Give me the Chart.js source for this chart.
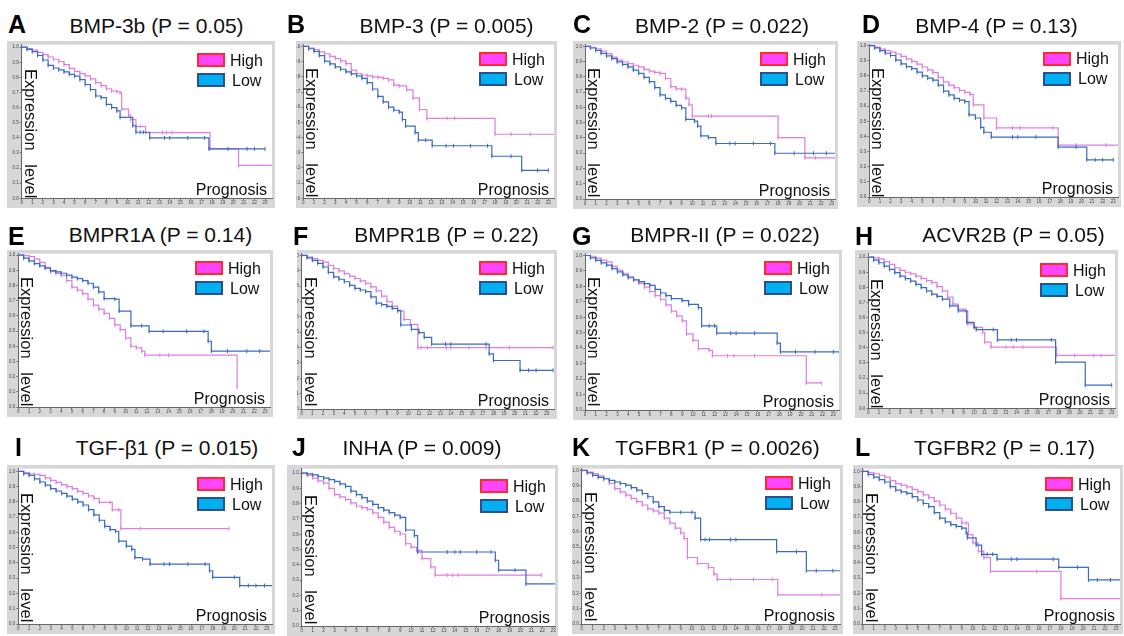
<!DOCTYPE html>
<html><head><meta charset="utf-8">
<script src="https://cdn.jsdelivr.net/npm/chart.js@4.4.1/dist/chart.umd.min.js"></script>
<style>
body{margin:0;background:#fff;}
#root{position:relative;width:1124px;height:636px;overflow:hidden;font-family:"Liberation Sans",Arial,Helvetica,sans-serif;color:#111;}
canvas{position:absolute;}
.title{position:absolute;font-size:21px;line-height:21px;white-space:nowrap;transform:translateX(-50%);}
.letter{position:absolute;font-size:25px;font-weight:bold;line-height:25px;color:#000;}
.ylab{position:absolute;writing-mode:vertical-rl;font-size:16.5px;line-height:16px;white-space:pre;}
.prog{position:absolute;font-size:16px;line-height:16px;white-space:nowrap;}
.lgt{position:absolute;font-size:16px;line-height:16px;white-space:nowrap;}
.sw{position:absolute;width:24px;height:10px;border:2px solid;}
</style></head><body>
<div id="root"></div>
<script>
// ---------- data ----------
const panelLetters = ['A','B','C','D','E','F','G','H','I','J','K','L'];
const genes = ['BMP-3b','BMP-3','BMP-2','BMP-4','BMPR1A','BMPR1B','BMPR-II','ACVR2B','TGF-\u03b21','INHA','TGFBR1','TGFBR2'];
const pValues = ['0.05','0.005','0.022','0.13','0.14','0.22','0.022','0.05','0.015','0.009','0.0026','0.17'];
const seriesNames = ['High','Low'];
const xTickLabels = ['0','1','2','3','4','5','6','7','8','9','10','11','12','13','14','15','16','17','18','19','20','21','22','23'];
const yTickLabels = ['0.0','0.1','0.2','0.3','0.4','0.5','0.6','0.7','0.8','0.9','1.0'];
const yAxisText = 'Expression   level';
const xAxisText = 'Prognosis';

const A_high = [[0,1],[0.5,0.99],[1,0.98],[1.5,0.965],[2,0.95],[2.5,0.935],[3,0.92],[3.5,0.905],[4,0.885],[4.5,0.86],[5,0.84],[5.5,0.825],[6,0.81],[6.5,0.79],[7,0.765],[7.5,0.745],[8,0.725],[8.5,0.71],[9,0.705],[9.3,0.70],[9.45,0.59],[10.1,0.55],[10.3,0.52],[10.8,0.475],[11.2,0.475],[11.7,0.435],[13.3,0.435],[13.7,0.435],[14.2,0.435],[17.8,0.327],[20.5,0.218],[23.7,0.218]];
const A_low = [[0,1],[0.5,0.985],[1,0.97],[1.5,0.945],[2,0.915],[2.5,0.88],[3,0.862],[3.5,0.85],[4,0.836],[4.5,0.82],[5,0.808],[5.5,0.785],[6,0.753],[6.5,0.72],[7,0.677],[7.5,0.666],[8,0.622],[8.5,0.60],[9,0.578],[9.3,0.535],[10.5,0.48],[10.8,0.437],[11.2,0.437],[11.5,0.437],[12.1,0.40],[13.5,0.40],[14,0.40],[15.7,0.40],[17.3,0.40],[17.7,0.327],[19.5,0.327],[21.3,0.327],[22,0.327],[23,0.327]];
const B_high = [[0,1],[0.5,0.99],[1,0.98],[1.5,0.965],[2,0.952],[2.5,0.935],[3,0.92],[3.5,0.905],[4,0.887],[4.5,0.844],[5,0.822],[5.5,0.812],[6,0.807],[6.5,0.80],[7,0.796],[7.5,0.79],[8,0.78],[8.5,0.746],[9,0.74],[9.7,0.714],[10.3,0.66],[10.9,0.585],[11.6,0.526],[13.5,0.526],[14.2,0.526],[18,0.422],[19.5,0.422],[21.3,0.422],[23.7,0.422]];
const B_low = [[0,1],[0.5,0.985],[1,0.968],[1.5,0.94],[2,0.903],[2.5,0.885],[3,0.866],[3.5,0.85],[4,0.833],[4.5,0.82],[5,0.807],[5.5,0.79],[6,0.762],[6.5,0.72],[7,0.671],[7.5,0.635],[8,0.60],[8.5,0.58],[9,0.567],[9.3,0.519],[9.6,0.476],[10.5,0.433],[10.8,0.383],[11.5,0.383],[12.1,0.346],[13.4,0.346],[14.1,0.346],[15.7,0.346],[17.3,0.346],[17.7,0.277],[19.5,0.277],[20.5,0.184],[22,0.184],[23,0.184]];
const C_high = [[0,1],[0.5,0.995],[1,0.985],[1.5,0.97],[2,0.953],[2.5,0.93],[3,0.91],[3.5,0.9],[4,0.888],[4.5,0.877],[5,0.866],[5.5,0.85],[6,0.838],[6.5,0.83],[7,0.823],[7.5,0.79],[8,0.737],[8.5,0.722],[9,0.72],[9.4,0.662],[9.7,0.618],[10,0.543],[11.5,0.543],[11.8,0.543],[18,0.403],[20.5,0.27],[21.5,0.27],[23.7,0.27]];
const C_low = [[0,1],[0.5,0.99],[1,0.974],[1.5,0.955],[2,0.938],[2.5,0.92],[3,0.899],[3.5,0.883],[4,0.866],[4.5,0.845],[5,0.823],[5.5,0.797],[6,0.769],[6.5,0.73],[7,0.683],[7.5,0.66],[8,0.64],[8.5,0.614],[9,0.597],[9.4,0.522],[10.2,0.51],[10.5,0.478],[10.8,0.414],[11.5,0.403],[12.2,0.364],[13.5,0.364],[14,0.364],[15.7,0.364],[17.3,0.364],[17.7,0.30],[19.5,0.30],[21.3,0.30],[22.5,0.30],[23.5,0.30]];
const D_high = [[0,1],[0.5,0.99],[1,0.978],[1.5,0.967],[2,0.957],[2.5,0.945],[3,0.93],[3.5,0.913],[4,0.896],[4.5,0.878],[5,0.859],[5.5,0.84],[6,0.822],[6.5,0.79],[7,0.761],[7.5,0.74],[8,0.722],[8.5,0.705],[9,0.691],[9.5,0.678],[9.8,0.609],[10.8,0.522],[12,0.457],[13.5,0.457],[14.2,0.457],[17.3,0.457],[17.8,0.343],[19.5,0.343],[22.3,0.343],[23.7,0.343]];
const D_low = [[0,1],[0.5,0.985],[1,0.967],[1.5,0.95],[2,0.935],[2.5,0.905],[3,0.88],[3.5,0.862],[4,0.848],[4.5,0.825],[5,0.80],[5.5,0.785],[6,0.772],[6.5,0.74],[7,0.70],[7.5,0.675],[8,0.652],[8.5,0.64],[9,0.63],[9.4,0.543],[10,0.522],[10.5,0.46],[10.8,0.428],[11.5,0.396],[13.5,0.396],[14,0.396],[15.7,0.396],[17.8,0.33],[19.5,0.33],[20.5,0.246],[21.3,0.246],[22,0.246],[23,0.246]];
const E_high = [[0,1],[0.5,0.997],[1,0.991],[1.5,0.975],[2,0.952],[2.5,0.92],[3,0.892],[3.5,0.88],[4,0.866],[4.5,0.833],[5,0.79],[5.5,0.77],[6,0.747],[6.5,0.71],[7,0.671],[7.5,0.645],[8,0.617],[8.5,0.584],[9,0.541],[9.5,0.509],[10,0.455],[10.5,0.40],[11,0.39],[11.5,0.368],[11.8,0.342],[13.2,0.342],[14,0.342],[20.4,0.13]];
const E_low = [[0,1],[0.5,0.98],[1,0.963],[1.5,0.945],[2,0.93],[2.5,0.915],[3,0.898],[3.5,0.89],[4,0.881],[4.5,0.868],[5,0.855],[5.5,0.845],[6,0.833],[6.5,0.815],[7,0.79],[7.5,0.758],[8,0.714],[9,0.71],[9.4,0.632],[10.5,0.535],[11.5,0.535],[12.2,0.498],[13.5,0.498],[15.7,0.498],[17.3,0.498],[17.7,0.433],[18,0.368],[19.5,0.368],[21.3,0.368],[22.5,0.368],[23.7,0.368]];
const F_high = [[0,1],[0.5,0.99],[1,0.979],[1.5,0.968],[2,0.957],[2.5,0.935],[3,0.915],[3.5,0.9],[4,0.882],[4.5,0.866],[5,0.85],[5.5,0.834],[6,0.818],[6.5,0.795],[7,0.769],[7.5,0.735],[8,0.70],[8.5,0.67],[9,0.637],[9.6,0.583],[10.2,0.551],[10.9,0.40],[11.2,0.40],[11.8,0.40],[13.6,0.40],[14,0.40],[15.7,0.40],[17.3,0.40],[19.5,0.40],[23.6,0.40]];
const F_low = [[0,1],[0.5,0.985],[1,0.968],[1.5,0.948],[2,0.925],[2.5,0.89],[3,0.861],[3.5,0.845],[4,0.829],[4.5,0.805],[5,0.786],[5.5,0.775],[6,0.765],[6.5,0.73],[7,0.69],[7.5,0.68],[8,0.669],[8.5,0.655],[9,0.643],[9.3,0.547],[10.3,0.519],[11,0.498],[11.5,0.466],[12.2,0.423],[13.5,0.423],[14,0.423],[17.3,0.423],[17.6,0.359],[18,0.316],[20.5,0.252],[21.3,0.252],[22,0.252],[23.6,0.252]];
const G_high = [[0,1],[0.5,0.995],[1,0.983],[1.5,0.97],[2,0.958],[2.5,0.93],[3,0.905],[3.5,0.885],[4,0.863],[4.5,0.84],[5,0.82],[5.5,0.795],[6,0.767],[6.5,0.74],[7,0.715],[7.5,0.68],[8,0.64],[8.5,0.609],[9,0.577],[9.4,0.493],[10,0.45],[10.5,0.397],[11.5,0.386],[11.8,0.351],[13.2,0.351],[13.8,0.351],[15.7,0.351],[20.5,0.175],[21.9,0.175]];
const G_low = [[0,1],[0.5,0.985],[1,0.968],[1.5,0.952],[2,0.937],[2.5,0.915],[3,0.894],[3.5,0.875],[4,0.856],[4.5,0.843],[5,0.831],[5.5,0.818],[6,0.806],[6.5,0.78],[7,0.757],[7.5,0.74],[8,0.721],[9,0.708],[9.6,0.683],[10.5,0.662],[10.8,0.545],[11.5,0.545],[12,0.545],[12.2,0.497],[13.5,0.497],[14,0.497],[15.7,0.497],[17.8,0.433],[18.1,0.376],[19.5,0.376],[21.3,0.376],[23,0.376],[23.7,0.376]];
const H_high = [[0,1],[0.5,0.995],[1,0.989],[1.5,0.97],[2,0.952],[2.5,0.93],[3,0.912],[3.5,0.9],[4,0.89],[4.5,0.875],[5,0.86],[5.5,0.845],[6,0.832],[6.5,0.805],[7,0.777],[7.5,0.735],[8,0.689],[8.5,0.656],[9.2,0.645],[9.4,0.558],[10,0.536],[10.8,0.503],[11,0.438],[11.6,0.405],[13,0.405],[13.7,0.405],[14.6,0.405],[17.8,0.35],[19.5,0.35],[21.3,0.35],[22,0.35],[23.7,0.35]];
const H_low = [[0,1],[0.5,0.98],[1,0.963],[1.5,0.94],[2,0.919],[2.5,0.897],[3,0.875],[3.5,0.858],[4,0.842],[4.5,0.82],[5,0.799],[5.5,0.777],[6,0.755],[6.5,0.74],[7,0.722],[7.7,0.678],[8.5,0.645],[9.3,0.569],[10,0.536],[10.2,0.521],[11.8,0.521],[12.2,0.453],[13.5,0.453],[14,0.453],[17.3,0.453],[17.7,0.306],[20.5,0.153],[23,0.153]];
const I_high = [[0,1],[0.5,0.993],[1,0.985],[1.5,0.98],[2,0.974],[2.5,0.958],[3,0.942],[3.5,0.928],[4,0.914],[4.5,0.9],[5,0.888],[5.5,0.87],[6,0.856],[6.5,0.84],[7,0.823],[7.5,0.797],[8.5,0.797],[8.7,0.748],[9.3,0.748],[9.5,0.625],[11.3,0.625],[19.5,0.625]];
const I_low = [[0,1],[0.5,0.985],[1,0.974],[1.5,0.952],[2,0.931],[2.5,0.91],[3,0.888],[3.5,0.872],[4,0.856],[4.5,0.838],[5,0.819],[5.5,0.8],[6,0.78],[6.5,0.75],[7,0.716],[7.5,0.68],[8,0.64],[8.5,0.619],[9,0.608],[9.3,0.543],[10,0.511],[10.5,0.489],[10.8,0.435],[11.5,0.425],[12.2,0.392],[13.5,0.392],[14,0.392],[15.7,0.392],[17.3,0.392],[17.7,0.349],[18,0.306],[20,0.306],[20.5,0.252],[21.3,0.252],[22,0.252],[22.8,0.252],[23.7,0.252]];
const J_high = [[0,1],[0.5,0.985],[1,0.968],[1.5,0.95],[2,0.935],[2.5,0.9],[3,0.86],[3.5,0.845],[4,0.828],[4.5,0.805],[5,0.785],[5.5,0.775],[6,0.763],[6.5,0.74],[7,0.71],[7.5,0.68],[8,0.645],[8.5,0.62],[9,0.602],[9.5,0.538],[10,0.516],[10.5,0.495],[11,0.441],[11.8,0.387],[12.2,0.333],[13.3,0.333],[13.8,0.333],[14.3,0.333],[21.9,0.333]];
const J_low = [[0,1],[0.5,0.995],[1,0.989],[1.5,0.978],[2,0.968],[2.5,0.957],[3,0.946],[3.5,0.93],[4,0.914],[4.5,0.882],[5,0.86],[5.5,0.84],[6,0.817],[6.5,0.795],[7,0.774],[7.5,0.758],[8,0.742],[8.5,0.725],[9,0.71],[9.5,0.628],[10.3,0.591],[10.6,0.484],[13.3,0.484],[14,0.484],[14.5,0.484],[16,0.484],[17.3,0.484],[17.7,0.43],[18,0.366],[19.5,0.366],[20.5,0.275],[23.3,0.275],[23.7,0.275]];
const K_high = [[0,1],[0.5,0.99],[1,0.979],[1.5,0.965],[2,0.946],[2.5,0.915],[3,0.882],[3.5,0.86],[4,0.839],[4.5,0.818],[5,0.797],[5.5,0.775],[6,0.75],[6.5,0.737],[7,0.722],[7.5,0.69],[8,0.657],[8.5,0.625],[9,0.593],[9.3,0.557],[9.6,0.433],[10.5,0.394],[11.5,0.368],[12,0.325],[12.3,0.29],[13.5,0.29],[15.6,0.29],[17.3,0.29],[17.8,0.19],[21.8,0.19],[23.7,0.19]];
const K_low = [[0,1],[0.5,0.985],[1,0.968],[1.5,0.955],[2,0.946],[2.5,0.935],[3,0.925],[3.5,0.915],[4,0.904],[4.5,0.888],[5,0.872],[5.5,0.85],[6,0.829],[6.5,0.795],[7,0.764],[7.5,0.74],[8,0.728],[9,0.728],[10,0.728],[10.3,0.69],[10.8,0.55],[11.2,0.55],[11.6,0.55],[13.5,0.55],[14,0.55],[17.7,0.471],[19.5,0.471],[20.4,0.347],[21.3,0.347],[22.8,0.347],[23.7,0.347]];
const L_high = [[0,1],[0.5,0.993],[1,0.985],[1.5,0.975],[2,0.963],[2.5,0.94],[3,0.92],[3.5,0.91],[4,0.899],[4.5,0.882],[5,0.866],[5.5,0.847],[6,0.828],[6.5,0.805],[7,0.78],[7.5,0.753],[8,0.726],[8.5,0.694],[9,0.662],[9.4,0.662],[9.6,0.586],[10,0.532],[10.5,0.478],[11,0.435],[11.6,0.345],[15.8,0.345],[18,0.166],[23.7,0.166]];
const L_low = [[0,1],[0.5,0.98],[1,0.963],[1.5,0.947],[2,0.931],[2.5,0.9],[3,0.877],[3.5,0.866],[4,0.856],[4.5,0.835],[5,0.813],[5.5,0.79],[6,0.769],[6.5,0.73],[7,0.694],[7.5,0.67],[8,0.651],[8.5,0.64],[9,0.629],[9.4,0.597],[9.5,0.565],[10.3,0.517],[10.8,0.457],[11.3,0.457],[11.8,0.457],[12.2,0.425],[13.5,0.425],[14,0.425],[17.3,0.425],[17.8,0.371],[19.5,0.371],[20.5,0.289],[21.3,0.289],[22.5,0.289],[23.7,0.289]];

const highSeries = [A_high,B_high,C_high,D_high,E_high,F_high,G_high,H_high,I_high,J_high,K_high,L_high];
const lowSeries  = [A_low,B_low,C_low,D_low,E_low,F_low,G_low,H_low,I_low,J_low,K_low,L_low];

// ---------- layout (pixels) ----------
// [frameLeft, frameTop, frameRight, xPixelAt0, xPixelAt23, yPixelAt1, yPixelAt0]
const layouts = [
  [7,41,275,21.7,265,45,198.3],
  [296,41,557,303.3,548.3,44.3,198.3],
  [573,41,838,585,831.7,44.3,199],
  [857,41,1121,869.3,1113.3,43.5,197],
  [7,250,273,18.3,265,253,407],
  [297,250,557,301.7,546.7,253.3,409],
  [573,250,842,585,833.3,253.3,410],
  [855,250,1118,868.3,1111.7,255,408.3],
  [7,465,275,18.3,266.7,469.3,624],
  [287,465,558,301.7,553.3,471,626],
  [572,465,843,581.7,835,468.3,624],
  [853,465,1123,862.7,1116,469.3,624]
];
const titlePos = [[156.5,33],[446.5,33],[722,33],[996.5,33],[160.5,242],[446.5,242],[725,242],[1013.5,242],[167,455],[422,455],[717.5,455],[1004.5,455]];
const letterPos = [[8,33],[287,33],[573,33],[862,33],[8,245],[293,245],[572,245],[855,245],[15,456],[292,456],[572,456],[855,456]];

const COL_HIGH = '#de7fe1', COL_LOW = '#3a6bc4';
const FRAME_GRAY = '#d7d7d7';

const root = document.getElementById('root');
function addDiv(cls, text, css){
  const d = document.createElement('div');
  d.className = cls; d.textContent = text;
  Object.assign(d.style, css);
  root.appendChild(d);
  return d;
}

const frameBg = {
  id:'frameBg',
  beforeDraw(chart){
    const {ctx, chartArea:a, width, height} = chart;
    ctx.save();
    ctx.fillStyle = FRAME_GRAY;
    ctx.fillRect(0,0,width,height);
    ctx.fillStyle = '#fff';
    ctx.fillRect(a.left, a.top, a.right-a.left, a.bottom-a.top);
    ctx.restore();
  }
};

const toPts = arr => arr.map(p => ({x:p[0], y:p[1]}));

layouts.forEach((L, i) => {
  const [fl, ft, fr, x0, x23, y1, y0] = L;
  const W = Math.round(fr - fl);
  const H = Math.min(Math.round(y0 + 10 - ft), 636 - ft);
  const plotTop = 1.5;
  const yMax = 1 + (y1 - ft - plotTop) / (y0 - y1);
  const plotRight = fr - 3;
  const xMax = (plotRight - x0) / ((x23 - x0) / 23);

  const cv = document.createElement('canvas');
  cv.width = W; cv.height = H;
  cv.style.left = fl + 'px'; cv.style.top = ft + 'px';
  cv.style.width = W + 'px'; cv.style.height = H + 'px';
  root.appendChild(cv);

  const tickFont = {size:4.5, family:'"Liberation Sans", Arial, sans-serif'};
  const ds = (name, data, col) => ({
    label: name, data: toPts(data), borderColor: col, backgroundColor: col,
    borderWidth: 1.2, stepped: true, fill: false, tension: 0,
    pointStyle: 'line', rotation: 90, pointRadius: 2, pointBorderWidth: 1,
    pointBorderColor: col, pointHoverRadius: 0
  });

  new Chart(cv, {
    type: 'line',
    data: { datasets: [ ds(seriesNames[1], lowSeries[i], COL_LOW), ds(seriesNames[0], highSeries[i], COL_HIGH) ] },
    options: {
      responsive: false, animation: false, devicePixelRatio: 1,
      events: [],
      layout: { autoPadding: false, padding: { left: 0, top: plotTop, right: W - (plotRight - fl), bottom: 0 } },
      plugins: { legend: {display:false}, tooltip: {enabled:false}, title: {display:false} },
      scales: {
        x: {
          type: 'linear', min: 0, max: xMax,
          afterFit: s => { s.height = H - (y0 - ft); },
          ticks: { stepSize: 1, autoSkip: false, maxRotation: 0, includeBounds: false, padding: 0,
                   font: tickFont, color: '#444', callback: v => xTickLabels[Math.round(v)] },
          grid: { display: true, drawOnChartArea: false, drawTicks: true, tickLength: 2, color: '#777' },
          border: { display: true, color: '#666', width: 1 }
        },
        y: {
          type: 'linear', min: 0, max: yMax,
          afterFit: s => { s.width = x0 - fl; },
          ticks: { stepSize: 0.1, autoSkip: false, includeBounds: false, padding: 1,
                   font: tickFont, color: '#444', callback: v => yTickLabels[Math.round(v*10)] },
          grid: { display: true, drawOnChartArea: false, drawTicks: true, tickLength: 2, color: '#777' },
          border: { display: true, color: '#666', width: 1 }
        }
      }
    },
    plugins: [frameBg]
  });

  // overlays
  const [tx, tb] = titlePos[i];
  addDiv('title', genes[i] + ' (P = ' + pValues[i] + ')', {left: tx + 'px', top: (tb - 17.8) + 'px'});
  const [lx, lb] = letterPos[i];
  addDiv('letter', panelLetters[i], {left: lx + 'px', top: (lb - 21.2) + 'px'});
  addDiv('ylab', yAxisText, {left: (x0 + 1) + 'px', top: (y1 + 24) + 'px'});
  addDiv('prog', xAxisText, {right: (1124 - (fr - 8)) + 'px', top: (y0 - 3 - 13.5) + 'px'});
  // legend
  const bxL = fr - 78, hiTop = y1 + 8, loTop = y1 + 28;
  addDiv('sw', '', {left: bxL + 'px', top: hiTop + 'px', background: '#ff45ff', borderColor: '#ff2a2a'});
  addDiv('lgt', seriesNames[0], {left: (fr - 45) + 'px', top: (hiTop - 0.5) + 'px'});
  addDiv('sw', '', {left: bxL + 'px', top: loTop + 'px', background: '#00b0f0', borderColor: '#2d4f8e'});
  addDiv('lgt', seriesNames[1], {left: (fr - 43) + 'px', top: (loTop - 0.5) + 'px'});
});
</script>
</body></html>
